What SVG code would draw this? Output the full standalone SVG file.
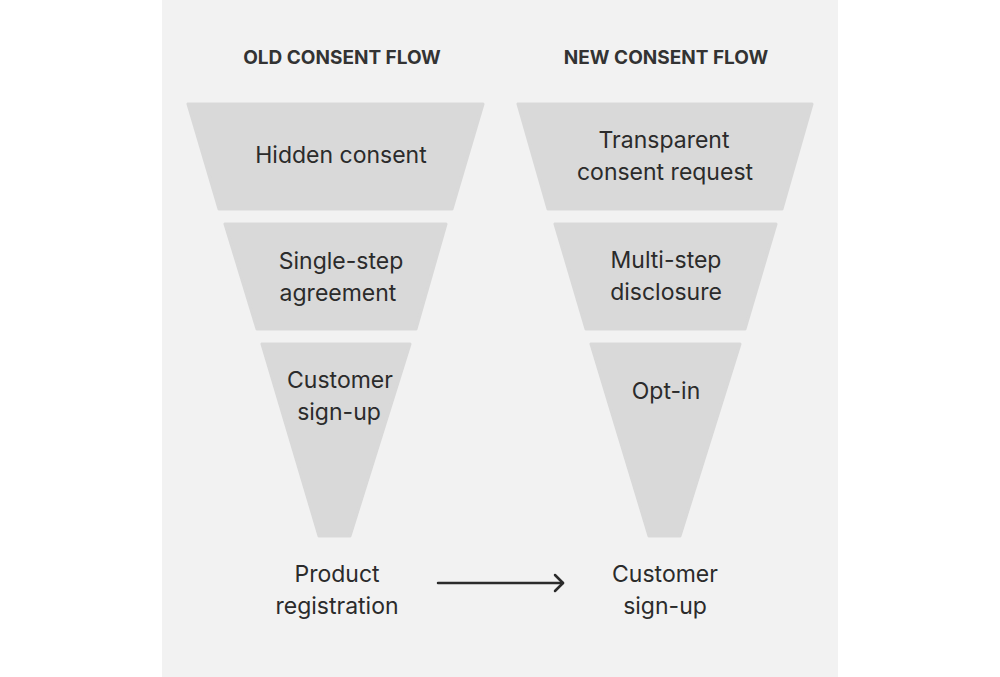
<svg xmlns="http://www.w3.org/2000/svg" width="1000" height="677" viewBox="0 0 1000 677">
<style>
.f{fill:#d9d9d9;stroke:#d9d9d9;stroke-width:3;stroke-linejoin:round}
.t{font-family:Inter,"Liberation Sans",sans-serif;font-size:23px;fill:#2b2b2b;text-anchor:middle}
.h{font-family:Inter,"Liberation Sans",sans-serif;font-size:19px;font-weight:bold;fill:#333;text-anchor:middle}
</style>
<rect width="1000" height="677" fill="#fff"/>
<rect x="162" y="0" width="676" height="677" fill="#f2f2f2"/>
<text class="h" x="342" y="64">OLD CONSENT FLOW</text>
<text class="h" x="666" y="64">NEW CONSENT FLOW</text>
<g id="old1"><polygon class="f" points="188,104 483,104 452,209 219,209"/><text class="t" x="341" y="163">Hidden consent</text></g>
<g id="old2"><polygon class="f" points="225,224 446,224 416,329 257,329"/><text class="t" x="341" y="269">Single-step</text><text class="t" x="338" y="301">agreement</text></g>
<g id="old3"><polygon class="f" points="262,344 410,344 350,536 319,536"/><text class="t" x="340" y="388">Customer</text><text class="t" x="339" y="420">sign-up</text></g>
<g id="new1"><polygon class="f" points="518,104 812,104 782,209 548,209"/><text class="t" x="664" y="148">Transparent</text><text class="t" x="665" y="180">consent request</text></g>
<g id="new2"><polygon class="f" points="555,224 776,224 745,329 586,329"/><text class="t" x="666" y="268">Multi-step</text><text class="t" x="666" y="300">disclosure</text></g>
<g id="new3"><polygon class="f" points="591,344 740,344 680,536 649,536"/><text class="t" x="666" y="399">Opt-in</text></g>
<g id="prod"><text class="t" x="337" y="582">Product</text><text class="t" x="337" y="614">registration</text></g>
<g id="cust"><text class="t" x="665" y="582">Customer</text><text class="t" x="665" y="614">sign-up</text></g>
<g id="connectors" stroke="#2b2b2b" stroke-width="2.5" fill="none" stroke-linecap="round" stroke-linejoin="round">
<line x1="438" y1="583" x2="563" y2="583"/>
<polyline points="555,575 563,583 555,591"/>
</g>
</svg>
